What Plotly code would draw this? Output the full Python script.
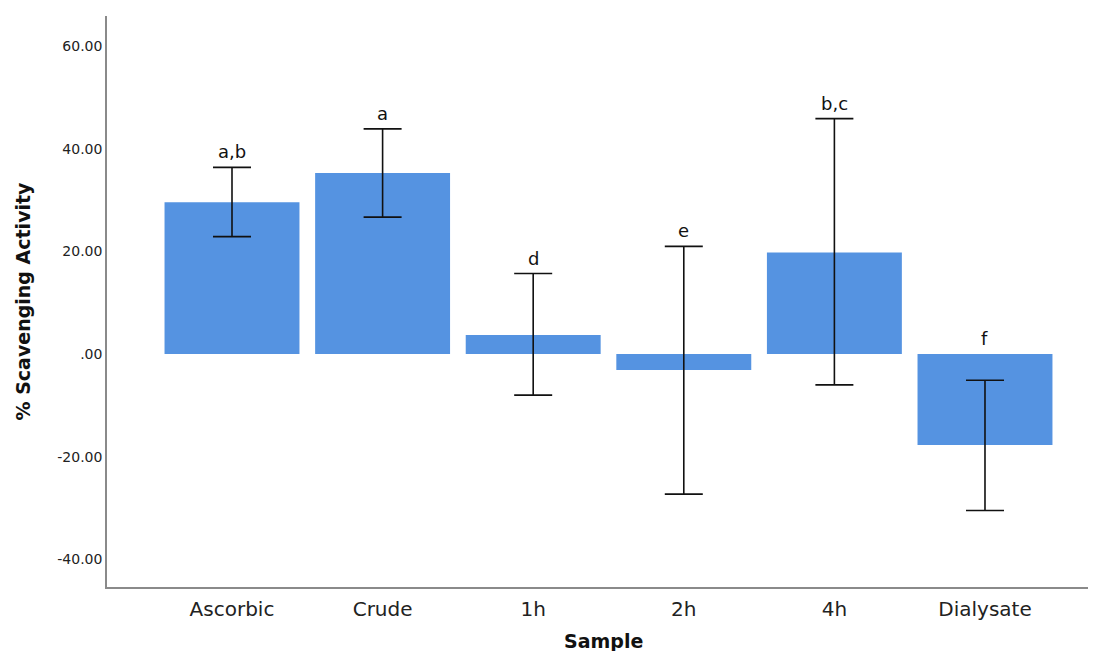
import plotly.graph_objects as go

categories = ["Ascorbic", "Crude", "1h", "2h", "4h", "Dialysate"]
means = [29.6, 35.3, 3.7, -3.1, 19.8, -17.7]
err_plus = [6.8, 8.6, 12.0, 24.1, 26.1, 12.6]
err_minus = [6.7, 8.6, 11.7, 24.2, 25.8, 12.8]
letters = ["a,b", "a", "d", "e", "b,c", "f"]
ytick_vals = [60, 40, 20, 0, -20, -40]
ytick_text = ["60.00", "40.00", "20.00", ".00", "-20.00", "-40.00"]

FONT = "DejaVu Sans"

fig = go.Figure()
fig.add_trace(go.Bar(
    x=categories, y=means,
    marker=dict(color="#5593E1", line=dict(width=0)),
    error_y=dict(type="data", symmetric=False, array=err_plus, arrayminus=err_minus,
                 color="#111111", thickness=1.6, width=19),
    showlegend=False,
))

for c, m, e, lab in zip(categories, means, err_plus, letters):
    fig.add_annotation(x=c, y=max(m + e, 0), text=lab, showarrow=False, xref="x", yref="y",
                       yanchor="bottom", yshift=3,
                       font=dict(family=FONT, size=18, color="#111111"))

# axis titles as annotations to match the original's positions
fig.add_annotation(x=0, y=0.5, xref="paper", yref="paper", xanchor="center", yanchor="middle",
                   xshift=-85, textangle=-90, showarrow=False,
                   text="<b>% Scavenging Activity</b>",
                   font=dict(family=FONT, size=19, color="#111111"))
fig.add_annotation(x=0.5, y=0, xref="paper", yref="paper", xanchor="center", yanchor="middle",
                   xshift=6, yshift=-54, showarrow=False,
                   text="<b>Sample</b>",
                   font=dict(family=FONT, size=19, color="#111111"))

fig.update_layout(
    width=1080, height=643,
    margin=dict(l=99, r=0, t=8, b=64, autoexpand=False),
    paper_bgcolor="white", plot_bgcolor="white",
    bargap=0.104,
    font=dict(family=FONT, color="#222222"),
    xaxis=dict(
        range=[-0.83, 5.684], showgrid=False, zeroline=False,
        showline=True, linecolor="#8a8a8a", linewidth=1.5, ticks="",
        ticklabelstandoff=3, automargin=False,
        tickfont=dict(family=FONT, size=20, color="#222222"),
    ),
    yaxis=dict(
        range=[-45.4, 65.9], showgrid=False, zeroline=False,
        showline=True, linecolor="#8a8a8a", linewidth=1.5, ticks="", automargin=False,
        tickvals=ytick_vals, ticktext=ytick_text,
        tickfont=dict(family=FONT, size=14, color="#222222"),
    ),
)

fig.write_html("out.html")
